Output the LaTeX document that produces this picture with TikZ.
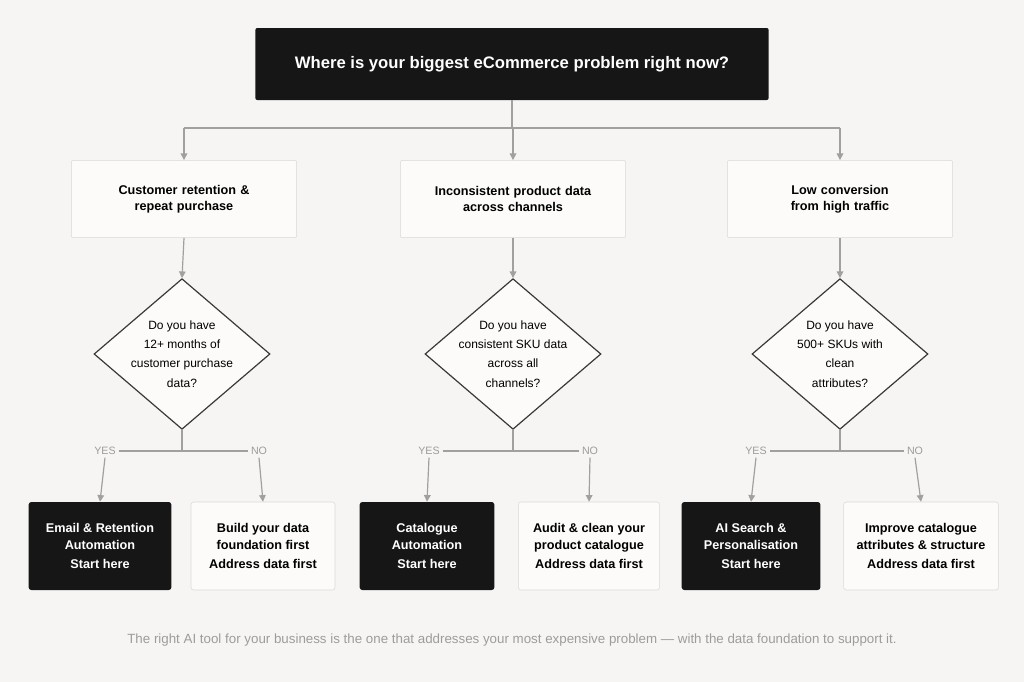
\documentclass[tikz,border=0pt]{standalone}
\usepackage{fontspec}
\setmainfont{Liberation Sans}
\usetikzlibrary{shapes.geometric,arrows.meta,positioning}
\definecolor{bg}{HTML}{F7F5F3}
\definecolor{ink}{HTML}{161616}
\definecolor{wire}{HTML}{A0A0A0}
\definecolor{rim}{HTML}{D9D9D9}
\definecolor{soft}{HTML}{9C9C9C}
\tikzstyle{line} = [draw=wire, line width=0.9pt, -{Triangle[width=5pt,length=5pt]}]
\tikzstyle{plain} = [draw=wire, line width=0.9pt]
\tikzstyle{cat} = [rectangle, rounded corners=1.5pt, draw=rim, fill=white!60!bg, minimum width=169pt, minimum height=58pt, text width=150pt, align=center, font=\fontsize{9.5}{12}\selectfont\bfseries]
\tikzstyle{dia} = [diamond, draw=ink!85, line width=0.9pt, fill=white!60!bg, minimum width=132pt, minimum height=113pt, inner sep=0pt]
\tikzstyle{diatext} = [align=center, font=\fontsize{9}{14.5}\selectfont]
\tikzstyle{go} = [rectangle, rounded corners=2pt, fill=ink, text=white, minimum height=66pt, align=center, font=\fontsize{9.5}{12.5}\selectfont\bfseries]
\tikzstyle{wait} = [rectangle, rounded corners=2pt, draw=rim, fill=white!60!bg, minimum height=66pt, align=center, font=\fontsize{9.5}{12.5}\selectfont\bfseries]
\tikzstyle{tag} = [text=soft, font=\fontsize{8}{10}\selectfont, inner sep=2pt]
\newcommand{\sub}[2]{#1\\[2pt]{\normalfont\fontsize{8.5}{10}\selectfont\color{#2}}}
\begin{document}
\begin{tikzpicture}[x=0.75pt, y=-0.75pt]
	\useasboundingbox[fill=bg] (0,0) rectangle (1024,682);
	
	\node [rectangle, rounded corners=1.5pt, fill=ink, text=white, minimum width=385pt, minimum height=54pt, font=\fontsize{12.5}{14}\selectfont\bfseries] (top) at (512,64) {Where is your biggest eCommerce problem right now?};
	\coordinate (split) at (512,128);
	\path [plain] (top.south) -- (split);
	
	% three categories
	\node [cat] (c1) at (184,199) {Customer retention \&\\repeat purchase};
	\node [cat] (c2) at (513,199) {Inconsistent product data\\across channels};
	\node [cat] (c3) at (840,199) {Low conversion\\from high traffic};
	\path [plain] (c1.north |- split) -- (c3.north |- split);
	\foreach \i in {1,2,3}
		\path [line] (c\i.north |- split) -- (c\i.north);
	
	% questions
	\node [dia] (d1) at (182,354) {};
	\node [dia] (d2) at (513,354) {};
	\node [dia] (d3) at (840,354) {};
	\node [diatext] at (d1) {Do you have\\12+ months of\\customer purchase\\data?};
	\node [diatext] at (d2) {Do you have\\consistent SKU data\\across all\\channels?};
	\node [diatext] at (d3) {Do you have\\500+ SKUs with\\clean\\attributes?};
	\foreach \i in {1,2,3}
		\path [line] (c\i.south) -- (d\i.north);
	
	% answers
	\node [tag] (y1) at (105,451) {YES};
	\node [tag] (n1) at (259,451) {NO};
	\node [tag] (y2) at (429,451) {YES};
	\node [tag] (n2) at (590,451) {NO};
	\node [tag] (y3) at (756,451) {YES};
	\node [tag] (n3) at (915,451) {NO};
	
	\node [go, minimum width=107pt] (g1) at (100,546) {\sub{Email \& Retention\\Automation}{white!85!ink}Start here};
	\node [wait, minimum width=108pt] (w1) at (263,546) {\sub{Build your data\\foundation first}{soft}Address data first};
	\node [go, minimum width=101pt] (g2) at (427,546) {\sub{Catalogue\\Automation}{white!85!ink}Start here};
	\node [wait, minimum width=106pt] (w2) at (589,546) {\sub{Audit \& clean your\\product catalogue}{soft}Address data first};
	\node [go, minimum width=104pt] (g3) at (751,546) {\sub{AI Search \&\\Personalisation}{white!85!ink}Start here};
	\node [wait, minimum width=116pt] (w3) at (921,546) {\sub{Improve catalogue\\attributes \& structure}{soft}Address data first};
	
	\foreach \i in {1,2,3} {
		\path [plain] (d\i.south) -- (d\i.south |- y\i);
		\path [plain] (y\i.east) -- (n\i.west);
		\path [line] (y\i.south) -- (g\i.north);
		\path [line] (n\i.south) -- (w\i.north);
	}
	
	\node [text=soft, font=\fontsize{10}{12}\selectfont] (foot) at (512,640) {The right AI tool for your business is the one that addresses your most expensive problem — with the data foundation to support it.};
\end{tikzpicture}
\end{document}
